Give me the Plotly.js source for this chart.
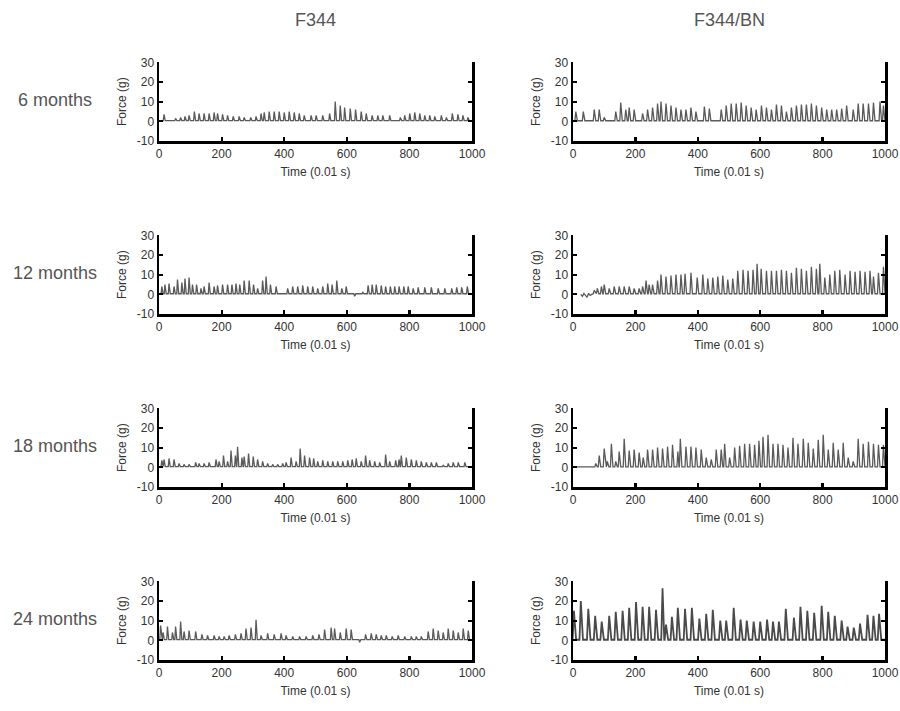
<!DOCTYPE html>
<html>
<head>
<meta charset="utf-8">
<script src="https://cdn.plot.ly/plotly-3.0.1.min.js"></script>
<style>html,body{margin:0;padding:0;background:#fff;}#chart{width:900px;height:711px;}</style>
</head>
<body>
<div id="chart"></div>
<script>
// ---------- DATA ----------
const columnTitles = ["F344", "F344/BN"];
const rowTitles = ["6 months", "12 months", "18 months", "24 months"];
const xTickVals = [0, 200, 400, 600, 800, 1000];
const yTickVals = [-10, 0, 10, 20, 30];

// F344, 6 months
const f344_6m_t = [16,53,69,83,96,113,128,144,160,176,187,203,219,237,256,272,293,310,326,336,352,368,384,400,416,432,448,464,486,502,523,545,563,579,593,611,628,646,662,681,699,715,737,771,785,801,817,833,849,865,881,902,918,937,955,971,987];
const f344_6m_h = [3.5,1.5,2,2.5,3,5,4,4,4,4.5,4,3.5,3,2.5,2.5,2,2,2.5,4,4.5,5,5,5,4.5,5,4.5,4,3,3,3,3,4,10,8,7,6.5,6,5,4,3,3,3,3,2,3,4,4.5,4,3,3,2.5,3,2,4,3.5,3,2];
// F344/BN, 6 months
const bn_6m_t = [9,33,68,84,100,137,153,169,180,196,223,239,255,271,282,298,314,330,346,362,378,394,421,437,475,491,507,523,539,555,571,587,604,620,636,652,668,684,700,716,732,748,764,780,797,813,829,845,861,877,898,914,930,947,963,984,995];
const bn_6m_h = [5,5,6,6,2,5,9.5,6,7,6,4,6,7,9,10,9,8,7,6,6,7,5,7.5,6.5,6,8,9,9,9.5,8,7,6,8,7,6,8.5,8,5,7,8,8.5,8.5,9,8,7,6,6,6,6.5,8,6,9,9,9,9.5,10,8];
// F344, 12 months
const f344_12m_t = [9,19,32,48,59,73,83,96,107,120,134,144,160,176,187,203,219,233,246,258,272,288,302,315,331,342,356,374,411,427,443,459,475,491,507,523,539,553,568,584,598,625,651,668,681,694,710,724,739,753,767,782,796,812,828,849,870,892,913,935,951,967,985];
const f344_12m_h = [4,5,5.5,4,7.5,6,8,8.5,5,5,3,4,6,4,4.5,5,5,5,5.5,5,7,7,5,3,7,9,5,4,3,4,4,4.5,4,4,3,4,5.5,5,7,3,4,-1,1,4.5,5,5,4.5,4,4,4,4,4,4,3,3.5,3.5,3.5,3,3,3,3.5,3.5,4];
// F344/BN, 12 months
const bn_12m_noise_t = [25,30,35,40,45,50,55,60];
const bn_12m_noise_y = [0,-1,0.5,-0.5,-1.5,0.5,-0.5,0];
const bn_12m_t = [68,78,91,100,116,132,148,164,180,196,212,223,234,244,255,271,282,298,314,330,346,359,378,398,416,432,448,464,480,496,512,528,545,561,577,590,603,620,636,652,668,684,700,716,732,748,764,780,791,807,823,839,855,872,888,904,920,936,952,963,979,995];
const bn_12m_h = [2,3,4,5,3,4,4,4,4,3,3,4,7,5,5,7,10,9,9.5,10,10,10.5,11,8.5,10,8,8.5,9,9.5,7.5,8,12,12.5,12,12.5,15.5,13,12,12,12,12.5,12,11,13.5,13,12,14,13,15.5,8.5,10,12,12.5,10,12,11.5,12,11.5,12,9,11,14];
// F344, 18 months
const f344_18m_t = [9,16,32,48,64,80,96,117,128,144,160,182,192,206,219,230,244,251,265,272,286,301,315,331,347,363,379,395,406,422,438,451,465,481,494,507,523,539,555,571,587,603,617,630,646,660,673,689,705,724,737,756,767,774,790,806,822,838,854,870,886,908,924,940,956,977];
const f344_18m_h = [3.5,4,4.5,4,2,1.5,1.5,2.5,2,2,2.5,4,3,6,3,8.5,6,10.5,5,5.5,7,5.5,4,3,2,1.5,1.5,2,2.5,5,3,9.5,6,5,4.5,3,3.5,3,3,3,3,3.5,4,4.5,3,6,3.5,3,2.5,6.5,3,3.5,4,6,5,4,3.5,3,2.5,2.5,2.5,1,2,2.5,2.5,2.5];
// F344/BN, 18 months
const bn_18m_t = [73,84,100,110,123,137,148,164,180,196,212,225,239,255,271,287,303,319,336,344,362,378,394,411,427,443,459,475,486,502,518,534,550,566,582,596,609,625,641,657,673,689,705,721,738,754,770,786,802,818,834,850,866,882,898,914,930,947,963,979,995];
const bn_18m_h = [2,6,9.5,3,12,3,8,14.5,8.5,9,7.5,5,9,9,10,9.5,10.5,11.5,8,14.5,10.5,10.5,10,9,5,4,9,9,12,5,10,11,12,12,11.5,13.5,15.5,16.5,12,12,11.5,10,15,12,14.5,12.5,9.5,14,16.5,9,12.5,9,12.5,5,3,14.5,12,13,12,11.5,11.5];
// F344, 24 months
const f344_24m_t = [5,13,27,43,53,69,80,96,117,137,155,176,192,208,224,244,262,278,294,310,326,347,368,390,406,427,449,470,491,511,529,550,561,579,598,614,641,660,678,694,710,726,745,764,785,806,822,838,860,876,892,908,924,940,956,972,988];
const f344_24m_h = [7.5,4,7,4,7,9.5,4.5,5,4.5,3,2.5,2.5,2,2,2.5,3,3.5,6,6.5,10.5,2.5,3.5,3,3.5,2.5,2,2,2,2.5,3,5.5,6.5,6,4,6,5.5,-1,3,3.5,3,2.5,2.5,2,2.5,2,2,2,2,4.5,6,5,4,6,5,4,6,5];
// F344/BN, 24 months
const bn_24m_t = [3,25,49,71,92,116,137,159,180,202,223,244,266,287,298,317,336,359,381,405,427,448,472,491,515,537,557,579,600,622,641,660,682,708,729,751,773,797,818,839,861,880,900,920,944,963,981];
const bn_24m_h = [15,20,16,12.5,9.5,12.5,14.5,15,16.5,19.5,17,17,15.5,26.5,8,12,16.5,16,16.5,11,13.5,15.5,10,10,16.5,10.5,10,9.5,9.5,10.5,9.5,9.5,16,11.5,17,15,14,17.5,14.5,12.5,10,7,6.5,8.5,13,12.5,13.5];

// ---------- BUILD ----------
function buildWave(ts, hs, base, w, start, end, pre) {
  const x = [], y = [];
  if (pre) { for (let i = 0; i < pre[0].length; i++) { x.push(pre[0][i]); y.push(pre[1][i]); } }
  else { x.push(start); y.push(base); }
  for (let i = 0; i < ts.length; i++) {
    const t = ts[i];
    const gl = i > 0 ? (t - ts[i-1]) / 2 : w;
    const gr = i < ts.length - 1 ? (ts[i+1] - t) / 2 : w;
    const wl = Math.min(w * 0.6, gl), wr = Math.min(w, gr);
    x.push(t - wl, t, t + wr);
    y.push(base, hs[i], base);
  }
  x.push(end); y.push(base);
  return {x, y};
}

const panels = [
  {t: f344_6m_t, h: f344_6m_h, base: 0.4, w: 4, start: 0},
  {t: bn_6m_t, h: bn_6m_h, base: 0.3, w: 5, start: 0},
  {t: f344_12m_t, h: f344_12m_h, base: 0.3, w: 4, start: 0},
  {t: bn_12m_t, h: bn_12m_h, base: 0.3, w: 5, start: 20, pre: [bn_12m_noise_t, bn_12m_noise_y]},
  {t: f344_18m_t, h: f344_18m_h, base: 0.4, w: 4, start: 0},
  {t: bn_18m_t, h: bn_18m_h, base: 0.2, w: 5, start: 0},
  {t: f344_24m_t, h: f344_24m_h, base: 0.4, w: 4, start: 0},
  {t: bn_24m_t, h: bn_24m_h, base: 0.3, w: 7, start: 0}
];

const xDom = [[159/900, 472/900], [573/900, 885/900]];
const rowTop = [62.3, 235.3, 408.3, 581.3];
const rowBot = [141, 314, 487, 660];
const H = 711;

const data = [];
const layout = {
  width: 900, height: 711,
  margin: {l: 0, r: 0, t: 0, b: 0},
  paper_bgcolor: '#ffffff', plot_bgcolor: '#ffffff',
  showlegend: false,
  font: {family: 'Liberation Sans, Arial, sans-serif', color: '#333'},
  annotations: []
};

panels.forEach((p, i) => {
  const row = Math.floor(i / 2), col = i % 2;
  const n = i + 1;
  const wave = buildWave(p.t, p.h, p.base, p.w, p.start, 1030, p.pre);
  data.push({
    type: 'scatter', mode: 'lines',
    x: wave.x, y: wave.y,
    xaxis: 'x' + (n === 1 ? '' : n), yaxis: 'y' + (n === 1 ? '' : n),
    line: {color: i === 7 ? '#4a4a4a' : '#5a5a5a', width: i === 7 ? 1.8 : 1.3},
    hoverinfo: 'skip'
  });
  const xa = {
    domain: xDom[col], range: [0, 1000], anchor: 'y' + (n === 1 ? '' : n),
    tickvals: xTickVals, ticktext: xTickVals.map(String),
    ticks: 'inside', ticklen: 4, tickwidth: 2.2, tickcolor: '#000',
    showline: true, linecolor: '#000', linewidth: 2.5,
    showgrid: false, zeroline: false, fixedrange: true,
    tickfont: {size: 12, color: '#333'},
    title: {text: 'Time (0.01 s)', font: {size: 12, color: '#333'}, standoff: 8}
  };
  const ya = {
    domain: [1 - rowBot[row] / H, 1 - rowTop[row] / H], range: [-10, 30],
    anchor: 'x' + (n === 1 ? '' : n),
    tickvals: yTickVals, ticktext: yTickVals.map(String),
    ticks: 'inside', ticklen: 4, tickwidth: 2.2, tickcolor: '#000',
    showline: true, linecolor: '#000', linewidth: 2.5, mirror: 'ticks',
    showgrid: false, zeroline: false, fixedrange: true,
    tickfont: {size: 12, color: '#333'},
    title: {text: 'Force (g)', font: {size: 12, color: '#333'}, standoff: 8}
  };
  layout['xaxis' + (n === 1 ? '' : n)] = xa;
  layout['yaxis' + (n === 1 ? '' : n)] = ya;
});

columnTitles.forEach((c, k) => {
  layout.annotations.push({
    text: c, xref: 'paper', yref: 'paper',
    x: (xDom[k][0] + xDom[k][1]) / 2, y: 1 - 20 / H,
    xanchor: 'center', yanchor: 'middle', showarrow: false,
    font: {size: 18, color: '#555'}
  });
});
rowTitles.forEach((r, k) => {
  layout.annotations.push({
    text: r, xref: 'paper', yref: 'paper',
    x: 55 / 900, y: 1 - (rowTop[k] + 38) / H,
    xanchor: 'center', yanchor: 'middle', showarrow: false,
    font: {size: 18, color: '#555'}
  });
});

Plotly.newPlot('chart', data, layout, {staticPlot: true, displayModeBar: false});
</script>
</body>
</html>
